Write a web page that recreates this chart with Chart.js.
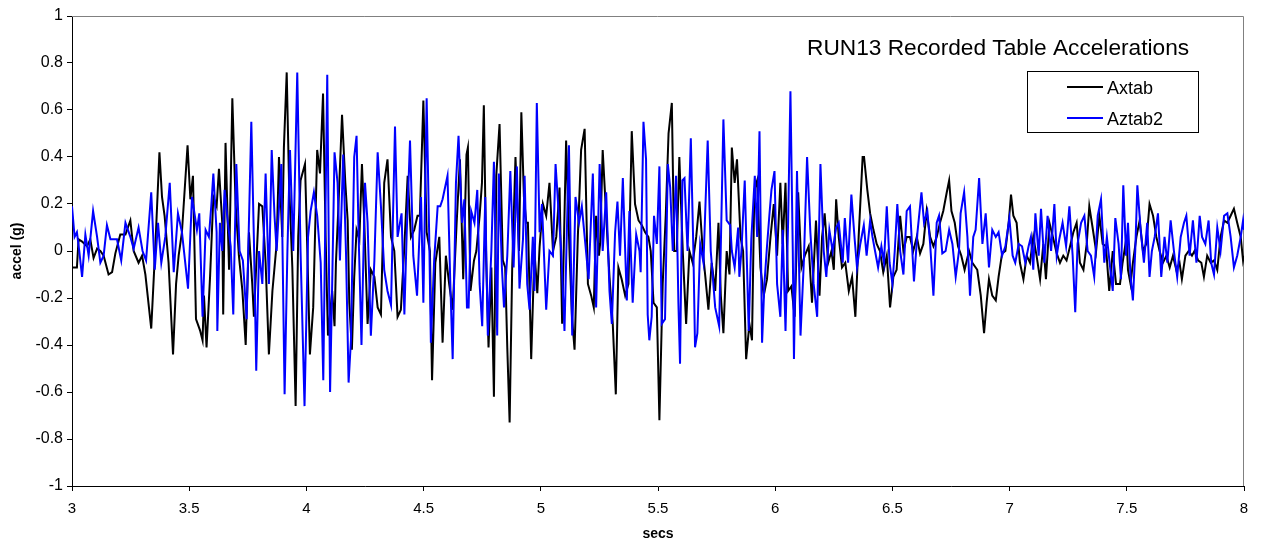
<!DOCTYPE html>
<html>
<head>
<meta charset="utf-8">
<title>RUN13 Recorded Table Accelerations</title>
<script src="https://cdn.jsdelivr.net/npm/chart.js@4/dist/chart.umd.min.js"></script>
<style>
  html, body { margin: 0; padding: 0; background: #fff; }
  #wrap { width: 1263px; height: 551px; }
</style>
</head>
<body>
<div id="wrap"><canvas id="accChart" width="1263" height="551"></canvas></div>
<script>
// RUN13 table accelerations, secs vs g

const chartTitle = "RUN13 Recorded Table Accelerations";
const seriesNames = ["Axtab", "Aztab2"];
const seriesColours = ["#000000", "#0000ff"];

// Axtab
const axTime = [
  3.000,3.021,3.028,3.043,3.064,3.078,3.092,3.107,3.121,3.135,3.156,3.171,3.185,3.206,3.228,3.249,3.263,3.284,3.299,3.313,3.338,3.356,3.373,3.384,3.395,3.412,3.431,3.444,3.455,3.469,3.493,3.505,3.516,3.529,3.547,3.557,
  3.563,3.574,3.589,3.603,3.617,3.627,3.641,3.645,3.655,3.670,3.684,3.698,3.712,3.727,3.741,3.755,3.769,3.776,3.798,3.812,3.826,3.840,3.855,3.873,3.883,3.897,3.904,3.916,3.926,3.940,3.954,3.965,3.975,3.994,4.004,4.015,4.029,4.046,4.058,4.071,4.082,4.092,4.110,4.120,
  4.126,4.137,4.152,4.166,4.176,4.183,4.194,4.204,4.214,4.226,4.237,4.247,4.261,4.275,4.290,4.304,4.318,4.332,4.346,4.361,4.375,4.389,4.403,4.418,4.432,4.446,4.460,4.474,4.484,4.499,4.513,4.527,4.536,4.550,4.567,4.581,4.595,4.609,4.624,4.641,4.655,4.669,4.683,
  4.689,4.700,4.715,4.725,4.739,4.749,4.757,4.767,4.777,4.789,4.800,4.810,4.824,4.838,4.848,4.857,4.867,4.878,4.892,4.907,4.917,4.928,4.938,4.945,4.959,4.973,4.985,4.995,5.009,5.023,5.037,5.052,5.066,5.080,5.091,5.108,5.123,5.133,5.144,5.158,5.172,5.187,5.201,5.215,5.226,5.236,5.248,
  5.253,5.264,5.279,5.293,5.307,5.320,5.331,5.345,5.360,5.374,5.388,5.402,5.417,5.431,5.445,5.459,5.469,5.481,5.495,5.506,5.520,5.533,5.545,5.559,5.569,5.580,5.591,5.606,5.620,5.634,5.648,5.663,5.677,5.691,5.702,5.715,5.729,5.744,5.758,5.768,5.779,5.793,5.805,5.815,
  5.827,5.837,5.852,5.863,5.876,5.890,5.901,5.911,5.923,5.937,5.951,5.965,5.980,5.994,6.008,6.022,6.032,6.044,6.055,6.069,6.083,6.098,6.112,6.126,6.143,6.157,6.174,6.189,6.200,6.211,6.226,6.240,6.250,6.260,6.271,6.285,6.299,6.314,6.328,6.342,6.356,6.373,
  6.379,6.393,6.405,6.419,6.433,6.447,6.461,6.476,6.490,6.504,6.518,6.533,6.547,6.561,6.575,6.589,6.604,6.618,6.632,6.646,6.661,6.675,6.689,6.703,6.717,6.732,6.742,6.752,6.766,6.780,6.794,6.808,6.827,6.841,6.862,6.877,6.891,6.902,6.912,6.926,6.941,
  6.953,6.968,6.982,6.996,7.006,7.016,7.030,7.044,7.059,7.073,7.087,7.101,7.115,7.130,7.144,7.155,7.170,7.187,7.201,7.215,7.229,7.243,7.258,7.272,7.286,7.300,7.315,7.329,7.340,7.354,7.369,7.383,7.397,7.411,7.425,7.440,7.454,7.471,7.482,7.499,
  7.505,7.516,7.526,7.541,7.555,7.569,7.583,7.597,7.612,7.626,7.640,7.654,7.669,7.683,7.697,7.711,7.725,7.735,7.750,7.764,7.778,7.789,7.804,7.818,7.829,7.843,7.858,7.872,7.886,7.900,7.915,7.929,7.943,7.957,7.971,7.986,7.996,8.000
];
const axAcc = [
  -0.07,-0.07,0.05,0.04,0.02,0.05,-0.03,0.01,0.00,-0.02,-0.10,-0.09,-0.01,0.07,0.07,0.13,0.00,-0.05,-0.02,-0.10,-0.33,0.03,0.42,0.23,0.15,-0.05,-0.44,-0.14,-0.02,0.08,0.45,0.22,0.32,-0.29,-0.34,-0.38,
  -0.19,-0.41,-0.11,0.23,0.19,0.35,0.12,-0.27,0.46,-0.08,0.65,0.20,-0.02,-0.17,-0.40,0.08,-0.14,-0.28,0.20,0.19,-0.05,-0.44,-0.17,0.03,0.40,0.06,0.44,0.76,0.29,-0.07,-0.66,0.06,0.30,0.37,0.00,-0.44,-0.24,0.43,0.33,0.67,0.06,-0.36,-0.17,-0.32,
  -0.05,0.20,0.58,0.29,0.13,-0.22,-0.42,-0.11,0.09,0.05,0.37,0.12,-0.31,-0.08,-0.11,-0.24,-0.27,0.29,0.39,0.06,0.00,-0.28,-0.25,0.02,0.32,0.06,0.09,0.15,0.15,0.64,0.08,0.00,-0.55,-0.05,0.06,-0.39,-0.02,-0.14,-0.25,0.12,0.39,-0.12,0.41,
  0.44,-0.17,-0.04,0.00,0.15,0.29,0.62,-0.04,-0.41,-0.07,-0.62,0.32,0.54,-0.04,-0.07,-0.41,-0.73,-0.07,0.40,0.00,0.59,0.23,0.12,0.12,-0.46,0.00,-0.18,0.02,0.20,0.15,0.29,0.00,0.06,0.27,-0.31,0.47,-0.02,-0.28,-0.42,0.06,0.43,0.52,-0.14,-0.19,-0.24,0.15,-0.02,
  0.03,0.43,0.15,-0.11,-0.31,-0.61,-0.07,-0.12,-0.19,-0.14,0.51,0.20,0.13,0.11,0.08,0.06,0.00,-0.22,-0.24,-0.72,-0.14,0.15,0.50,0.63,0.00,0.00,0.40,-0.01,-0.31,0.00,-0.05,0.06,0.21,0.00,-0.11,-0.25,-0.05,-0.17,0.12,-0.19,-0.35,0.00,-0.10,0.44,
  0.29,0.39,0.06,0.00,-0.46,-0.31,-0.38,0.26,0.30,-0.07,-0.19,-0.12,0.06,0.20,-0.02,0.29,0.03,0.29,-0.17,-0.15,-0.28,0.25,-0.07,-0.02,0.02,-0.22,0.13,-0.19,0.06,0.16,-0.05,0.00,-0.08,0.22,0.06,-0.07,-0.05,-0.17,-0.11,-0.28,0.06,0.40,
  0.40,0.26,0.16,0.09,0.03,0.00,-0.09,-0.02,-0.24,-0.11,-0.08,0.15,0.00,0.06,0.06,0.00,0.06,-0.01,0.03,0.17,0.06,0.02,0.06,0.12,0.17,0.25,0.30,0.17,0.12,0.02,-0.02,-0.08,0.00,-0.05,-0.08,-0.19,-0.35,-0.22,-0.12,-0.19,-0.21,
  -0.11,-0.01,0.00,0.12,0.24,0.15,0.12,-0.05,-0.12,-0.02,-0.05,0.06,-0.02,-0.12,0.03,-0.12,0.12,0.05,-0.01,-0.05,-0.02,-0.04,0.02,0.08,0.12,-0.05,-0.08,0.03,0.19,0.10,0.00,0.15,0.03,0.02,-0.17,0.00,-0.14,-0.14,-0.05,0.06,
  -0.08,-0.14,-0.05,0.06,0.13,0.00,0.03,0.20,0.15,0.06,0.00,-0.05,-0.02,-0.07,-0.02,-0.08,-0.05,-0.12,-0.02,0.00,-0.02,0.00,-0.04,-0.05,-0.11,-0.02,-0.05,-0.04,-0.08,0.06,0.13,0.12,0.15,0.18,0.12,0.06,-0.04,-0.02
];

// Aztab2
const azTime = [
  3.000,3.011,3.021,3.031,3.043,3.057,3.071,3.090,3.107,3.121,3.135,3.149,3.164,3.178,3.192,3.210,3.228,3.249,3.263,3.284,3.301,3.316,3.338,3.353,3.367,3.381,3.398,3.417,3.434,3.452,3.469,3.495,3.512,3.533,3.543,3.557,
  3.570,3.584,3.594,3.603,3.617,3.620,3.631,3.641,3.651,3.665,3.677,3.688,3.701,3.715,3.729,3.745,3.765,3.776,3.786,3.798,3.812,3.826,3.840,3.852,3.864,3.873,3.893,3.907,3.919,3.930,3.944,3.961,3.975,3.992,4.007,4.018,4.032,4.046,4.061,4.072,4.079,4.089,4.101,4.110,4.120,
  4.126,4.133,4.143,4.157,4.169,4.180,4.190,4.204,4.214,4.223,4.235,4.250,4.261,4.275,4.290,4.304,4.318,4.332,4.346,4.361,4.378,4.389,4.406,4.418,4.428,4.442,4.456,4.472,4.489,4.499,4.513,4.524,4.531,4.545,4.560,4.571,4.581,4.602,4.614,4.624,4.638,4.649,4.664,4.674,4.685,
  4.692,4.703,4.717,4.729,4.739,4.750,4.763,4.774,4.789,4.800,4.814,4.821,4.834,4.843,4.857,4.870,4.884,4.898,4.909,4.924,4.931,4.942,4.952,4.966,4.973,4.983,4.995,5.005,5.023,5.037,5.052,5.063,5.077,5.087,5.101,5.120,5.134,5.148,5.163,5.175,5.190,5.204,5.222,5.236,5.251,
  5.264,5.279,5.293,5.303,5.317,5.327,5.338,5.350,5.360,5.367,5.378,5.392,5.407,5.421,5.426,5.438,5.449,5.456,5.463,5.473,5.483,5.495,5.506,5.516,5.530,5.542,5.552,5.563,5.577,5.587,5.594,5.604,5.613,5.626,5.640,5.651,5.658,5.668,5.680,5.694,5.712,5.725,5.744,5.761,5.779,5.793,5.808,5.815,
  5.827,5.842,5.847,5.856,5.870,5.887,5.898,5.913,5.923,5.933,5.944,5.954,5.965,5.975,5.984,5.997,6.008,6.022,6.032,6.044,6.055,6.065,6.075,6.080,6.093,6.108,6.122,6.136,6.150,6.164,6.179,6.193,6.207,6.218,6.231,6.245,6.260,6.271,6.288,6.297,6.311,6.325,6.339,6.349,6.363,6.378,
  6.390,6.405,6.415,6.426,6.439,6.453,6.464,6.476,6.488,6.500,6.510,6.521,6.533,6.547,6.561,6.575,6.585,6.592,6.607,6.624,6.635,6.649,6.661,6.675,6.689,6.699,6.713,6.727,6.742,6.756,6.770,6.784,6.791,6.806,6.820,6.831,6.845,6.855,6.870,6.884,6.898,6.912,6.926,6.941,
  6.953,6.968,6.982,6.999,7.013,7.024,7.039,7.053,7.067,7.081,7.091,7.101,7.110,7.124,7.134,7.148,7.162,7.177,7.191,7.201,7.212,7.226,7.241,7.255,7.269,7.280,7.290,7.305,7.319,7.333,7.347,7.361,7.376,7.390,7.404,7.415,7.430,7.440,7.451,7.465,7.475,7.485,7.497,
  7.505,7.516,7.526,7.536,7.545,7.559,7.573,7.587,7.597,7.607,7.619,7.633,7.647,7.661,7.673,7.687,7.701,7.715,7.730,7.744,7.754,7.768,7.782,7.797,7.811,7.821,7.835,7.849,7.860,7.872,7.886,7.900,7.915,7.929,7.943,7.957,7.971,7.986,7.996,8.000
];
const azAcc = [
  0.19,0.06,0.08,0.00,-0.11,0.07,-0.02,0.17,0.06,-0.05,-0.02,0.11,0.05,0.05,0.05,-0.04,0.12,0.06,0.01,0.10,0.00,-0.04,0.25,-0.08,0.12,-0.05,0.06,0.29,-0.09,0.16,0.08,-0.16,0.23,0.09,0.16,-0.28,
  0.09,0.06,0.19,0.33,0.08,-0.34,0.12,0.00,0.26,0.12,0.02,-0.27,0.37,0.00,-0.04,-0.29,0.55,0.05,-0.51,0.00,-0.14,0.33,-0.14,0.43,0.15,0.00,0.37,-0.61,0.00,0.43,0.00,0.76,0.00,-0.66,0.06,0.17,0.25,0.15,-0.05,-0.55,0.00,0.75,-0.60,-0.14,0.42,
  0.36,0.29,-0.04,0.41,-0.01,-0.56,-0.38,0.40,0.49,0.06,-0.40,0.29,0.12,-0.36,-0.04,0.42,0.19,-0.08,-0.17,-0.23,0.53,0.06,0.16,-0.27,0.08,0.47,-0.02,-0.19,0.23,-0.22,0.65,0.06,-0.39,-0.04,0.19,0.19,0.22,0.32,-0.14,-0.46,0.29,0.49,0.12,0.22,-0.24,
  -0.24,0.17,0.12,0.26,-0.14,-0.32,0.23,-0.36,0.00,0.38,-0.36,0.33,-0.07,-0.24,-0.02,0.34,-0.07,0.36,-0.16,0.05,0.32,-0.14,-0.25,0.06,-0.17,0.63,0.08,0.20,-0.25,0.00,-0.02,0.37,0.15,0.00,-0.34,0.45,-0.36,0.23,0.12,0.19,0.03,-0.12,0.33,-0.24,0.37,
  0.00,0.25,-0.17,-0.31,0.08,0.21,-0.02,0.31,0.00,-0.21,0.17,-0.22,0.07,0.00,-0.09,0.55,0.39,-0.27,-0.38,-0.28,0.15,0.03,0.36,-0.31,-0.29,0.37,0.27,0.00,0.32,-0.22,-0.48,0.30,0.31,0.00,0.48,0.00,-0.41,-0.35,0.03,-0.05,0.47,0.00,-0.24,-0.32,0.56,0.13,0.11,0.00,
  -0.07,0.10,-0.11,0.00,0.30,-0.34,0.05,0.32,0.06,0.51,-0.39,-0.14,0.02,0.15,0.26,0.34,-0.14,-0.28,0.09,-0.34,0.12,0.68,0.00,-0.46,0.34,-0.36,-0.05,0.40,0.08,-0.14,-0.28,0.37,0.00,-0.11,0.09,0.00,0.10,0.12,-0.05,0.14,-0.05,0.24,0.05,-0.07,0.03,0.11,
  -0.02,0.13,0.06,0.00,-0.07,0.02,-0.05,0.19,-0.05,-0.14,0.00,0.20,0.00,-0.10,0.17,0.19,0.00,-0.13,0.08,0.25,0.12,0.17,0.03,-0.19,0.12,0.15,-0.01,0.00,0.09,0.03,-0.11,0.00,0.16,0.25,0.06,-0.19,0.06,0.09,0.31,0.03,0.16,-0.07,0.09,0.06,
  0.08,-0.02,0.02,0.14,-0.02,-0.05,0.03,0.02,-0.05,0.02,0.06,-0.08,0.16,-0.02,0.18,-0.05,0.15,0.00,0.20,-0.02,0.05,0.12,0.02,0.19,-0.02,-0.26,0.03,0.12,0.15,0.00,-0.02,-0.11,0.15,0.22,-0.05,0.06,-0.08,-0.17,0.14,0.03,-0.12,0.28,-0.02,
  0.12,-0.11,-0.21,0.00,0.28,0.09,-0.05,0.12,-0.11,0.00,0.06,0.16,-0.11,0.06,-0.05,0.13,0.00,-0.11,0.06,0.12,0.15,-0.02,0.13,-0.05,0.15,0.06,0.03,0.13,-0.05,-0.10,0.10,0.00,0.15,0.16,0.06,-0.07,-0.02,0.06,0.13,0.09
];

const xMin = 3, xMax = 8, xStep = 0.5;
const yMin = -1, yMax = 1, yStep = 0.2;

function toPoints(times, values) {
    let pts = [];
    for (let i = 0; i < times.length; i++) {
        pts.push({ x: times[i], y: values[i] });
    }
    return pts;
}

// title + boxed legend inside the plot, and the grey frame on top/right
const overlay = {
    id: "overlay",
    beforeDatasetsDraw(chart) {
        const ctx = chart.ctx;
        const a = chart.chartArea;
        ctx.save();
        ctx.strokeStyle = "#808080";
        ctx.lineWidth = 1;
        ctx.beginPath();
        ctx.moveTo(a.left, a.top + 0.5);
        ctx.lineTo(a.right - 0.5, a.top + 0.5);
        ctx.lineTo(a.right - 0.5, a.bottom);
        ctx.stroke();
        ctx.restore();
    },
    afterDraw(chart) {
        const ctx = chart.ctx;
        ctx.save();
        ctx.fillStyle = "#000";
        ctx.textBaseline = "alphabetic";
        ctx.font = "22.7px 'Liberation Sans', Arial, sans-serif";
        ctx.fillText(chartTitle, 807, 55);

        // legend box
        ctx.fillStyle = "#fff";
        ctx.fillRect(1027, 71, 172, 62);
        ctx.strokeStyle = "#000";
        ctx.lineWidth = 1;
        ctx.strokeRect(1027.5, 71.5, 171, 61);

        ctx.font = "18px 'Liberation Sans', Arial, sans-serif";
        const rows = [87, 118];
        for (let i = 0; i < seriesNames.length; i++) {
            ctx.strokeStyle = seriesColours[i];
            ctx.lineWidth = 2;
            ctx.beginPath();
            ctx.moveTo(1067, rows[i]);
            ctx.lineTo(1103, rows[i]);
            ctx.stroke();
            ctx.fillStyle = "#000";
            ctx.fillText(seriesNames[i], 1107, rows[i] + 7);
        }
        ctx.restore();
    }
};

const chartEl = document.getElementById("accChart");

new Chart(chartEl, {
    type: "line",
    data: {
        datasets: [
            {
                label: seriesNames[0],
                data: toPoints(axTime, axAcc),
                borderColor: seriesColours[0],
                borderWidth: 2,
                pointRadius: 0,
                tension: 0,
                fill: false,
                order: 2
            },
            {
                label: seriesNames[1],
                data: toPoints(azTime, azAcc),
                borderColor: seriesColours[1],
                borderWidth: 2,
                pointRadius: 0,
                tension: 0,
                fill: false,
                order: 1
            }
        ]
    },
    options: {
        responsive: false,
        animation: false,
        layout: { padding: { left: 0, right: 19, top: 16, bottom: 0 } },
        plugins: {
            legend: { display: false },
            tooltip: { enabled: false }
        },
        scales: {
            x: {
                type: "linear",
                min: xMin,
                max: xMax,
                afterFit: function(scale) { scale.height = 65; },
                afterBuildTicks: function(scale) {
                    let t = [];
                    for (let v = xMin; v <= xMax + 1e-9; v += xStep) t.push({ value: v });
                    scale.ticks = t;
                },
                grid: { drawOnChartArea: false, drawTicks: true, tickLength: 5, color: "#000", lineWidth: 1 },
                border: { display: true, color: "#000", width: 1 },
                ticks: {
                    color: "#000",
                    padding: 9,
                    maxRotation: 0,
                    font: { family: "'Liberation Sans', Arial, sans-serif", size: 15 },
                    callback: function(v) { return String(Math.round(v * 10) / 10); }
                },
                title: {
                    display: true,
                    text: "secs",
                    color: "#000",
                    padding: { top: 0, bottom: 8 },
                    font: { family: "'Liberation Sans', Arial, sans-serif", size: 14, weight: "bold" }
                }
            },
            y: {
                min: yMin,
                max: yMax,
                afterFit: function(scale) { scale.width = 72; },
                afterBuildTicks: function(scale) {
                    let t = [];
                    for (let i = 0; i <= Math.round((yMax - yMin) / yStep); i++) t.push({ value: yMin + i * yStep });
                    scale.ticks = t;
                },
                grid: { drawOnChartArea: false, drawTicks: true, tickLength: 5, color: "#000", lineWidth: 1 },
                border: { display: true, color: "#000", width: 1 },
                ticks: {
                    color: "#000",
                    padding: 4,
                    font: { family: "'Liberation Sans', Arial, sans-serif", size: 16 },
                    callback: function(v) { return String(Math.round(v * 10) / 10); }
                },
                title: {
                    display: true,
                    text: "accel (g)",
                    color: "#000",
                    padding: { top: 9, bottom: 0 },
                    font: { family: "'Liberation Sans', Arial, sans-serif", size: 14, weight: "bold" }
                }
            }
        }
    },
    plugins: [overlay]
});
</script>
</body>
</html>
